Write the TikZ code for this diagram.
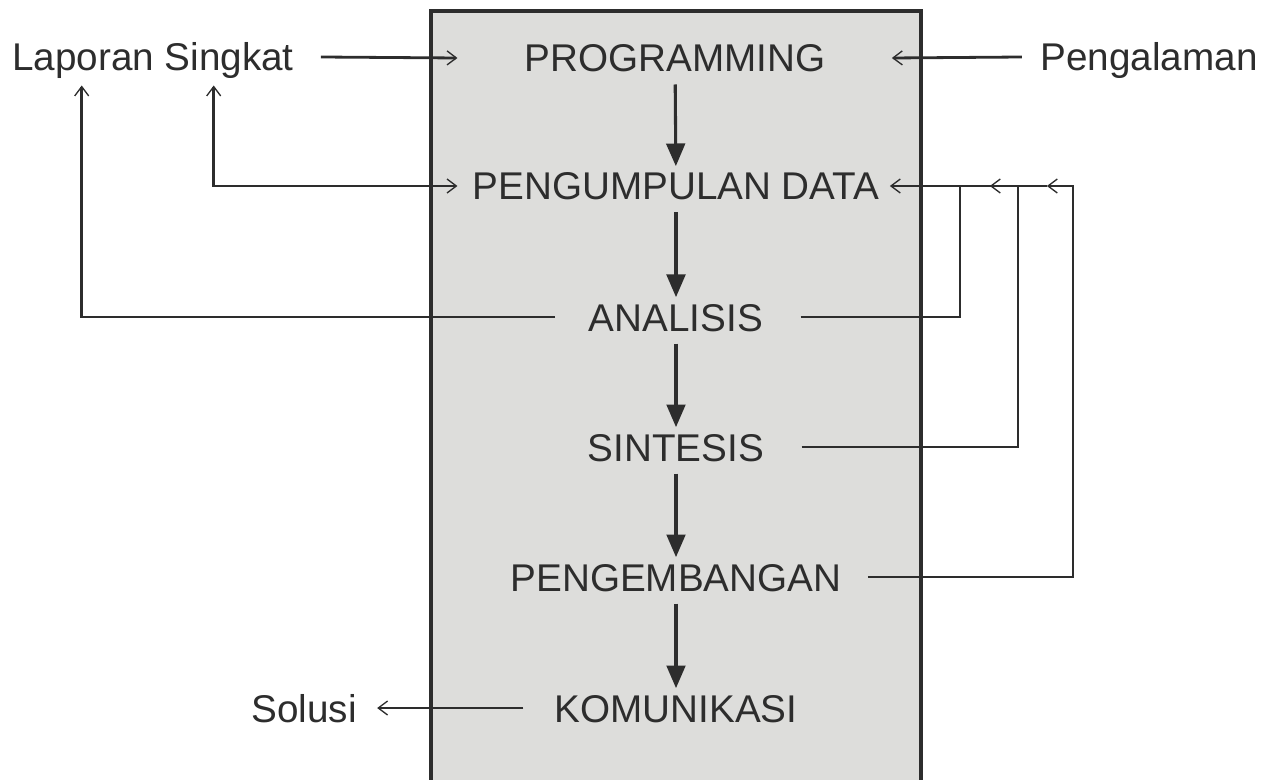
\documentclass[tikz,border=0pt]{standalone}
\usepackage{fontspec}
\setmainfont{Liberation Sans}
\usetikzlibrary{arrows.meta}

\definecolor{boxgray}{RGB}{221,221,219}
\definecolor{inkgray}{RGB}{45,45,45}

\tikzset{
	every picture/.style={line width=0.75pt},
	label text/.style={inner sep=0pt, text height=21pt, text depth=0pt, text=inkgray,
		font=\fontsize{29}{34}\selectfont},
	flow/.style={draw=inkgray, line width=2.3pt, -{Triangle[length=17pt,width=14pt]},
		shorten <=9pt, shorten >=4pt},
	link/.style={draw=inkgray, line width=2.1pt},
	open tip/.style={-{Straight Barb[length=7pt,width=10.5pt,line width=1pt]}},
	both tips/.style={{Straight Barb[length=7pt,width=10.5pt,line width=1pt]}-{Straight Barb[length=7pt,width=10.5pt,line width=1pt]}}}

\begin{document}
\begin{tikzpicture}[x=0.75pt,y=0.75pt,yscale=-1,xscale=1]
\useasboundingbox (0,0) rectangle (1269,780);

% Grey panel
\draw [draw=inkgray, line width=3pt, fill=boxgray] (431,11) rectangle (921,800);

% Text Node
\node [label text] (prog) at (675,58) {PROGRAMMING};
\node [label text] (data) at (676,186) {PENGUMPULAN DATA};
\node [label text] (ana) at (676,317) {ANALISIS};
\node [label text] (sin) at (676,447) {SINTESIS};
\node [label text] (pgb) at (676,577) {PENGEMBANGAN};
\node [label text] (kom) at (676,708) {KOMUNIKASI};
\node [label text] (lap) at (153,57) {Laporan Singkat};
\node [label text] (exp) at (1149,57) {Pengalaman};
\node [label text] (sol) at (304,708) {Solusi};

% Main flow
\draw [flow] (prog) -- (data);
\draw [flow] (data) -- (ana);
\draw [flow] (ana) -- (sin);
\draw [flow] (sin) -- (pgb);
\draw [flow] (pgb) -- (kom);

% Inputs to programming
\draw [link, open tip] ([xshift=20pt]lap.east) -- ([xshift=-50pt]prog.west);
\draw [link, open tip] ([xshift=-13.5pt]exp.west) -- ([xshift=49.5pt]prog.east);

% Report loops on the left
\draw [link, both tips] ([xshift=-11pt]data.west) -| ([xshift=151.5pt,yshift=10.5pt]lap.south west);
\draw [link, open tip] ([xshift=-25pt]ana.west) -| ([xshift=52.5pt,yshift=10.5pt]lap.south west);

% Feedback on the right
\draw [link] ([xshift=125pt]data.east) -- ([xshift=60pt]data.east);
\draw [link, open tip] ([xshift=27.75pt]ana.east) -| ([xshift=60pt]data.east) -- ([xshift=7.5pt]data.east);
\draw [link, open tip] ([xshift=27.75pt]sin.east) -| ([xshift=103.5pt]data.east) -- ([xshift=82.5pt]data.east);
\draw [link, open tip] ([xshift=19.5pt]pgb.east) -| ([xshift=144.75pt]data.east) -- ([xshift=125.25pt]data.east);

% Output
\draw [link, open tip] ([xshift=-23pt]kom.west) -- ([xshift=15pt]sol.east);

\end{tikzpicture}
\end{document}
